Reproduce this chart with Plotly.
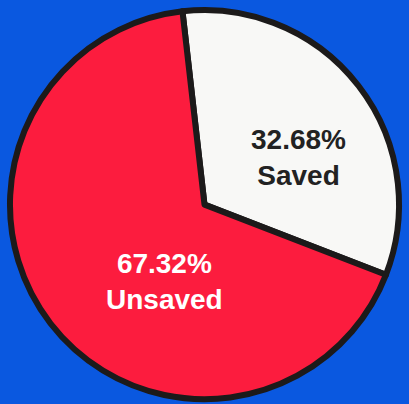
import plotly.graph_objects as go

labels = ["Saved", "Unsaved"]
values = [32.68, 67.32]
slice_colors = ["#f8f8f6", "#fc1c3e"]
label_font_colors = ["#222222", "#ffffff"]

BG = "#0a58e0"

fig = go.Figure()
fig.add_trace(go.Pie(
    labels=labels,
    values=values,
    sort=False,
    direction="clockwise",
    rotation=-6.5,
    textinfo="none",
    hoverinfo="label+percent",
    marker=dict(colors=slice_colors, line=dict(color="#1c1a1a", width=6)),
    domain=dict(x=[0, 1], y=[0.012, 0.975]),
    showlegend=False,
))

# label positions (paper coords) for each slice
label_pos = [(0.731, 0.611), (0.403, 0.304)]
for lab, val, col, (px, py) in zip(labels, values, label_font_colors, label_pos):
    fig.add_annotation(
        x=px, y=py, xref="paper", yref="paper",
        xanchor="center", yanchor="middle",
        text=f"<b>{val:.2f}%<br>{lab}</b>",
        showarrow=False,
        font=dict(family="Liberation Sans, Arial, sans-serif", size=28, color=col),
        align="center",
    )

fig.update_layout(
    width=409, height=404,
    margin=dict(l=0, r=0, t=0, b=0),
    paper_bgcolor=BG,
    plot_bgcolor=BG,
)

fig.write_html(
    "out.html",
    config={"displayModeBar": False},
    post_script="document.body.style.margin='0';document.body.style.background='%s';" % BG,
)
